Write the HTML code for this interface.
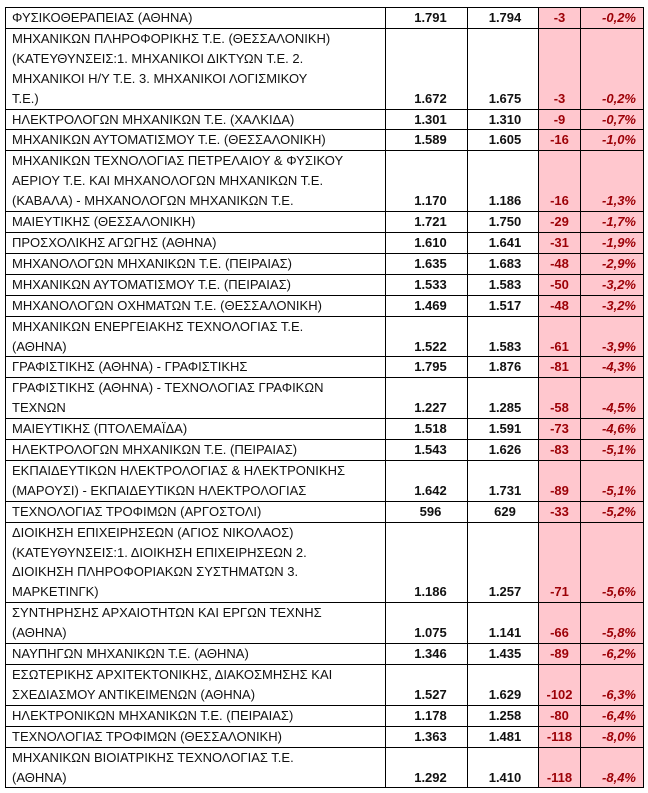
<!DOCTYPE html>
<html><head><meta charset="utf-8"><style>
body{margin:0;background:#fff;width:648px;height:793px;overflow:hidden}
table{position:absolute;left:5px;top:7px;border-collapse:collapse;table-layout:fixed;width:638px;font-family:"Liberation Sans",sans-serif;font-size:13px;color:#111}
td{border:1px solid #000;padding:0 0 0 6px;line-height:19.9px;vertical-align:bottom;white-space:nowrap;overflow:hidden}
td.a{text-align:center;font-weight:bold;padding:0 0 0 8px}
td.b{text-align:center;font-weight:bold;padding:0 0 0 4px}
td.c{text-align:center;background:#ffc7ce;color:#9c0006;font-weight:bold;padding:0}
td.d{text-align:right;background:#ffc7ce;color:#9c0006;font-weight:bold;font-style:italic;padding:0 7px 0 0}
</style></head><body>
<table>
<colgroup><col style="width:380px"><col style="width:82px"><col style="width:71px"><col style="width:42px"><col style="width:63px"></colgroup>
<tr><td>ΦΥΣΙΚΟΘΕΡΑΠΕΙΑΣ (ΑΘΗΝΑ)</td><td class="a">1.791</td><td class="b">1.794</td><td class="c">-3</td><td class="d">-0,2%</td></tr>
<tr><td>ΜΗΧΑΝΙΚΩΝ ΠΛΗΡΟΦΟΡΙΚΗΣ Τ.Ε. (ΘΕΣΣΑΛΟΝΙΚΗ)<br>(ΚΑΤΕΥΘΥΝΣΕΙΣ:1. ΜΗΧΑΝΙΚΟΙ ΔΙΚΤΥΩΝ Τ.Ε. 2.<br>ΜΗΧΑΝΙΚΟΙ Η/Υ Τ.Ε. 3. ΜΗΧΑΝΙΚΟΙ ΛΟΓΙΣΜΙΚΟΥ<br>Τ.Ε.)</td><td class="a">1.672</td><td class="b">1.675</td><td class="c">-3</td><td class="d">-0,2%</td></tr>
<tr><td>ΗΛΕΚΤΡΟΛΟΓΩΝ ΜΗΧΑΝΙΚΩΝ Τ.Ε. (ΧΑΛΚΙΔΑ)</td><td class="a">1.301</td><td class="b">1.310</td><td class="c">-9</td><td class="d">-0,7%</td></tr>
<tr><td>ΜΗΧΑΝΙΚΩΝ ΑΥΤΟΜΑΤΙΣΜΟΥ Τ.Ε. (ΘΕΣΣΑΛΟΝΙΚΗ)</td><td class="a">1.589</td><td class="b">1.605</td><td class="c">-16</td><td class="d">-1,0%</td></tr>
<tr><td>ΜΗΧΑΝΙΚΩΝ ΤΕΧΝΟΛΟΓΙΑΣ ΠΕΤΡΕΛΑΙΟΥ &amp; ΦΥΣΙΚΟΥ<br>ΑΕΡΙΟΥ Τ.Ε. ΚΑΙ ΜΗΧΑΝΟΛΟΓΩΝ ΜΗΧΑΝΙΚΩΝ Τ.Ε.<br>(ΚΑΒΑΛΑ) - ΜΗΧΑΝΟΛΟΓΩΝ ΜΗΧΑΝΙΚΩΝ Τ.Ε.</td><td class="a">1.170</td><td class="b">1.186</td><td class="c">-16</td><td class="d">-1,3%</td></tr>
<tr><td>ΜΑΙΕΥΤΙΚΗΣ (ΘΕΣΣΑΛΟΝΙΚΗ)</td><td class="a">1.721</td><td class="b">1.750</td><td class="c">-29</td><td class="d">-1,7%</td></tr>
<tr><td>ΠΡΟΣΧΟΛΙΚΗΣ ΑΓΩΓΗΣ (ΑΘΗΝΑ)</td><td class="a">1.610</td><td class="b">1.641</td><td class="c">-31</td><td class="d">-1,9%</td></tr>
<tr><td>ΜΗΧΑΝΟΛΟΓΩΝ ΜΗΧΑΝΙΚΩΝ Τ.Ε. (ΠΕΙΡΑΙΑΣ)</td><td class="a">1.635</td><td class="b">1.683</td><td class="c">-48</td><td class="d">-2,9%</td></tr>
<tr><td>ΜΗΧΑΝΙΚΩΝ ΑΥΤΟΜΑΤΙΣΜΟΥ Τ.Ε. (ΠΕΙΡΑΙΑΣ)</td><td class="a">1.533</td><td class="b">1.583</td><td class="c">-50</td><td class="d">-3,2%</td></tr>
<tr><td>ΜΗΧΑΝΟΛΟΓΩΝ ΟΧΗΜΑΤΩΝ Τ.Ε. (ΘΕΣΣΑΛΟΝΙΚΗ)</td><td class="a">1.469</td><td class="b">1.517</td><td class="c">-48</td><td class="d">-3,2%</td></tr>
<tr><td>ΜΗΧΑΝΙΚΩΝ ΕΝΕΡΓΕΙΑΚΗΣ ΤΕΧΝΟΛΟΓΙΑΣ Τ.Ε.<br>(ΑΘΗΝΑ)</td><td class="a">1.522</td><td class="b">1.583</td><td class="c">-61</td><td class="d">-3,9%</td></tr>
<tr><td>ΓΡΑΦΙΣΤΙΚΗΣ (ΑΘΗΝΑ) - ΓΡΑΦΙΣΤΙΚΗΣ</td><td class="a">1.795</td><td class="b">1.876</td><td class="c">-81</td><td class="d">-4,3%</td></tr>
<tr><td>ΓΡΑΦΙΣΤΙΚΗΣ (ΑΘΗΝΑ) - ΤΕΧΝΟΛΟΓΙΑΣ ΓΡΑΦΙΚΩΝ<br>ΤΕΧΝΩΝ</td><td class="a">1.227</td><td class="b">1.285</td><td class="c">-58</td><td class="d">-4,5%</td></tr>
<tr><td>ΜΑΙΕΥΤΙΚΗΣ (ΠΤΟΛΕΜΑΪΔΑ)</td><td class="a">1.518</td><td class="b">1.591</td><td class="c">-73</td><td class="d">-4,6%</td></tr>
<tr><td>ΗΛΕΚΤΡΟΛΟΓΩΝ ΜΗΧΑΝΙΚΩΝ Τ.Ε. (ΠΕΙΡΑΙΑΣ)</td><td class="a">1.543</td><td class="b">1.626</td><td class="c">-83</td><td class="d">-5,1%</td></tr>
<tr><td>ΕΚΠΑΙΔΕΥΤΙΚΩΝ ΗΛΕΚΤΡΟΛΟΓΙΑΣ &amp; ΗΛΕΚΤΡΟΝΙΚΗΣ<br>(ΜΑΡΟΥΣΙ) - ΕΚΠΑΙΔΕΥΤΙΚΩΝ ΗΛΕΚΤΡΟΛΟΓΙΑΣ</td><td class="a">1.642</td><td class="b">1.731</td><td class="c">-89</td><td class="d">-5,1%</td></tr>
<tr><td>ΤΕΧΝΟΛΟΓΙΑΣ ΤΡΟΦΙΜΩΝ (ΑΡΓΟΣΤΟΛΙ)</td><td class="a">596</td><td class="b">629</td><td class="c">-33</td><td class="d">-5,2%</td></tr>
<tr><td>ΔΙΟΙΚΗΣΗ ΕΠΙΧΕΙΡΗΣΕΩΝ (ΑΓΙΟΣ ΝΙΚΟΛΑΟΣ)<br>(ΚΑΤΕΥΘΥΝΣΕΙΣ:1. ΔΙΟΙΚΗΣΗ ΕΠΙΧΕΙΡΗΣΕΩΝ 2.<br>ΔΙΟΙΚΗΣΗ ΠΛΗΡΟΦΟΡΙΑΚΩΝ ΣΥΣΤΗΜΑΤΩΝ 3.<br>ΜΑΡΚΕΤΙΝΓΚ)</td><td class="a">1.186</td><td class="b">1.257</td><td class="c">-71</td><td class="d">-5,6%</td></tr>
<tr><td>ΣΥΝΤΗΡΗΣΗΣ ΑΡΧΑΙΟΤΗΤΩΝ ΚΑΙ ΕΡΓΩΝ ΤΕΧΝΗΣ<br>(ΑΘΗΝΑ)</td><td class="a">1.075</td><td class="b">1.141</td><td class="c">-66</td><td class="d">-5,8%</td></tr>
<tr><td>ΝΑΥΠΗΓΩΝ ΜΗΧΑΝΙΚΩΝ Τ.Ε. (ΑΘΗΝΑ)</td><td class="a">1.346</td><td class="b">1.435</td><td class="c">-89</td><td class="d">-6,2%</td></tr>
<tr><td>ΕΣΩΤΕΡΙΚΗΣ ΑΡΧΙΤΕΚΤΟΝΙΚΗΣ, ΔΙΑΚΟΣΜΗΣΗΣ ΚΑΙ<br>ΣΧΕΔΙΑΣΜΟΥ ΑΝΤΙΚΕΙΜΕΝΩΝ (ΑΘΗΝΑ)</td><td class="a">1.527</td><td class="b">1.629</td><td class="c">-102</td><td class="d">-6,3%</td></tr>
<tr><td>ΗΛΕΚΤΡΟΝΙΚΩΝ ΜΗΧΑΝΙΚΩΝ Τ.Ε. (ΠΕΙΡΑΙΑΣ)</td><td class="a">1.178</td><td class="b">1.258</td><td class="c">-80</td><td class="d">-6,4%</td></tr>
<tr><td>ΤΕΧΝΟΛΟΓΙΑΣ ΤΡΟΦΙΜΩΝ (ΘΕΣΣΑΛΟΝΙΚΗ)</td><td class="a">1.363</td><td class="b">1.481</td><td class="c">-118</td><td class="d">-8,0%</td></tr>
<tr><td>ΜΗΧΑΝΙΚΩΝ ΒΙΟΙΑΤΡΙΚΗΣ ΤΕΧΝΟΛΟΓΙΑΣ Τ.Ε.<br>(ΑΘΗΝΑ)</td><td class="a">1.292</td><td class="b">1.410</td><td class="c">-118</td><td class="d">-8,4%</td></tr>
</table>
</body></html>
